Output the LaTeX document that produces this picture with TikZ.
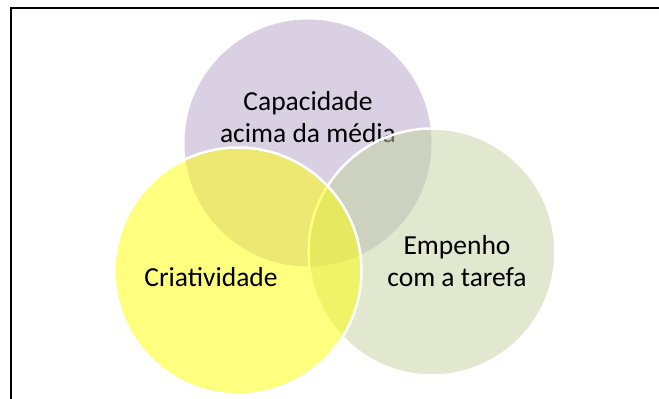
\documentclass[tikz,border=0pt]{standalone}
\usepackage{xcolor}
\usepackage{fontspec}
\setmainfont{Carlito}
\usetikzlibrary{positioning, backgrounds}

\definecolor{capa}{RGB}{217,209,227}
\definecolor{empe}{RGB}{195,209,159}
\definecolor{cria}{RGB}{255,255,0}

\begin{document}
\begin{tikzpicture}[x=1pt, y=-1pt,
    ring/.style={circle, inner sep=0pt, minimum size=247pt, draw=white, line width=2.5pt},
    label/.style={align=center, font=\fontsize{27.5}{31.5}\selectfont}]
      \useasboundingbox (0,0) rectangle (659,399);
      \draw[line width=2pt] (10.5,399) -- (10.5,7.5) -- (659,7.5);
      \node[ring, fill=capa, draw=none]        (c_0) at (308,143) {};
      \node[label]                             (t_0) at (308,117) {Capacidade\\acima da média};
      \node[ring, fill=empe, fill opacity=0.5] (c_2) at (432,252) {};
      \node[ring, fill=cria, fill opacity=0.5] (c_1) at (238,271) {};
      \node[label]                             (t_1) at (211,277) {Criatividade};
      \node[label]                             (t_2) at (457,261) {Empenho\\com a tarefa};
    \end{tikzpicture}
\end{document}
